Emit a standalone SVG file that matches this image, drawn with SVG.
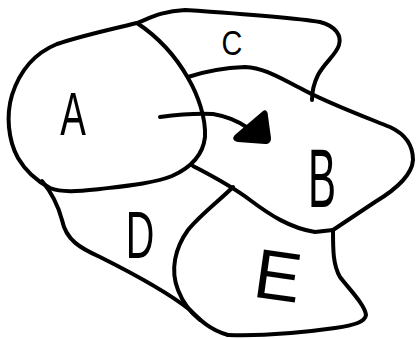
<svg xmlns="http://www.w3.org/2000/svg" width="417" height="339" viewBox="0 0 417 339">
<style>
.ln{fill:none;stroke:#000;stroke-width:4;stroke-linecap:round;stroke-linejoin:round}
.lbl{font-family:"Liberation Sans",Arial,sans-serif;fill:#000;text-anchor:middle}
</style>
<rect width="417" height="339" fill="#fff"/>
<g id="connectors">
<path class="ln" d="M160,117 C175,115 195,113 213,114 C225,116 238,121 248,128"/>
<path d="M263,111 C266,109 268,112 268,116 L271,138 C271,142 269,144 265,144 L238,142 C232,141 232,137 236,134 Z" fill="#000"/>
</g>
<g id="A">
<path class="ln" d="M137,23 C112,29 80,36 57,44 C35,53 20,70 12,95 C6,115 8,140 18,158 C25,170 35,180 50,188 C62,193 80,191 100,189 C125,186 155,183 172,176 C190,168 203,155 205,137 C206,118 198,95 188,78 C175,55 158,37 137,23 Z"/>
<text class="lbl" x="0" y="0" font-size="62" transform="translate(73,135) scale(0.62,1)">A</text>
</g>
<g id="C">
<path class="ln" d="M137,23 C150,18 162,11 185,10 C230,13 290,17 320,22 C335,26 342,35 339,45 C336,55 325,62 318,75 C313,85 312,95 312,100"/>
<text class="lbl" x="0" y="0" font-size="36" transform="translate(232,55) scale(0.8,1)">C</text>
</g>
<g id="B">
<path class="ln" d="M188,77 C200,73 220,68 245,67 C265,68 280,78 300,88 C325,102 360,115 390,127 C405,134 413,145 413,160 C412,175 395,190 375,202 C360,212 345,222 333,230"/>
<path class="ln" d="M193,166 C210,175 230,185 250,200 C270,215 290,228 315,232 L333,230"/>
<text class="lbl" x="0" y="0" font-size="84" transform="translate(322,207) scale(0.5,1)">B</text>
</g>
<g id="D">
<path class="ln" d="M42,181 C52,193 58,205 62,220 C66,240 80,248 100,257 C130,272 165,290 190,310 C200,320 210,330 228,335"/>
<text class="lbl" x="0" y="0" font-size="66" transform="translate(140,258) scale(0.6,1)">D</text>
</g>
<g id="E">
<path class="ln" d="M233,187 C220,200 200,215 188,230 C175,248 170,270 178,290 C183,303 190,312 200,320"/>
<path class="ln" d="M333,230 C333,250 333,265 340,277 C350,290 365,305 366,315 C365,322 355,325 335,328 C300,333 260,336 228,335"/>
<text class="lbl" x="278" y="300" font-size="70" transform="rotate(8 278 276)">E</text>
</g>
</svg>
